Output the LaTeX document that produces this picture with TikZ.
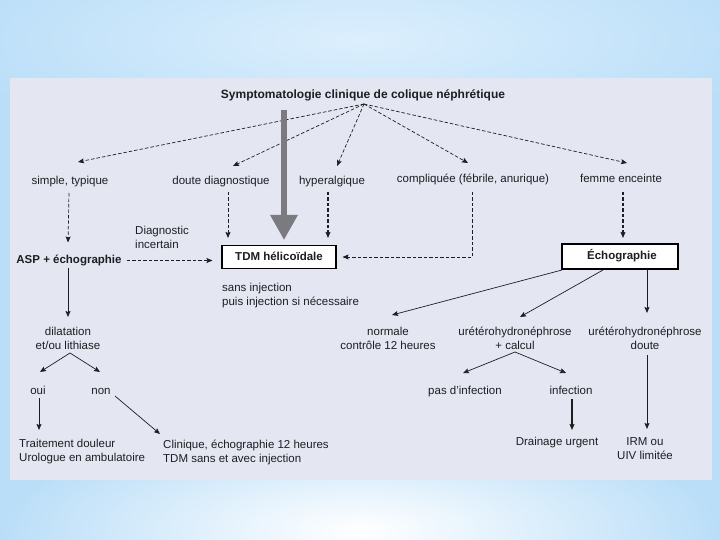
\documentclass[tikz,border=0pt]{standalone}
\usepackage{fontspec}
\setmainfont{Liberation Sans}
\usetikzlibrary{arrows.meta,calc}
\definecolor{bgblue}{RGB}{186,222,248}
\definecolor{bglight}{RGB}{220,239,253}
\definecolor{panel}{RGB}{228,230,242}
\definecolor{ink}{RGB}{30,30,34}
\definecolor{bigarr}{RGB}{122,122,128}
\begin{document}
\begin{tikzpicture}[x=1pt,y=1pt,
  txt/.style={font=\fontsize{11.5}{14}\selectfont, text=ink, inner sep=2pt, align=center},
  one/.style={text height=8.6pt, text depth=2.4pt},
  btxt/.style={txt, font=\fontsize{11.5}{14}\selectfont\bfseries},
  box/.style={btxt, one, draw=black, fill=white, line width=1.1pt, minimum height=23pt},
  dasharr/.style={draw=ink, line width=0.7pt, dash pattern=on 3.5pt off 2pt, -{Stealth[length=6pt,width=5pt,inset=1pt]}},
  bdasharr/.style={dasharr, line width=1.1pt},
  solarr/.style={draw=ink, line width=0.7pt, -{Stealth[length=6pt,width=5pt,inset=1pt]}},
  bigarrow/.style={draw=bigarr, line width=6pt, -{Triangle[length=25pt,width=26pt]}},
]
\useasboundingbox (0,0) rectangle (720,-540);
% background
\fill[bgblue] (0,0) rectangle (720,-540);
\shade[inner color=bglight, outer color=bgblue] (360,-40) ellipse (420 and 110);
\shade[inner color=white, outer color=bgblue] (360,-530) ellipse (360 and 110);
\fill[panel] (10,-78) rectangle (712,-480);

% nodes
\node[btxt, one, font=\fontsize{12}{14}\selectfont\bfseries] (title) at (363,-95.5) {Symptomatologie clinique de colique néphrétique};
\coordinate (hub) at (364,-104);

\node[txt, one] (simple) at (70,-181) {simple, typique};
\node[txt, one] (doute) at (221,-181) {doute diagnostique};
\node[txt, one] (hyper) at (332,-181) {hyperalgique};
\node[txt, one] (compl) at (473,-179) {compliquée (fébrile, anurique)};
\node[txt, one] (femme) at (621,-179) {femme enceinte};

\node[btxt, one] (asp) at (69,-260.5) {ASP + échographie};
\node[box, minimum width=114pt] (tdm) at (279,-257) {TDM hélicoïdale};
\node[box, minimum width=116pt, minimum height=25pt] (echo) at (620,-256.5) {\hspace*{4pt}Échographie};
\draw[line width=2pt] ([shift={(-1,-0.5)}]echo.north east) -- ([shift={(-1,1)}]echo.south east) -- ([shift={(0,1)}]echo.south west);
\node[txt, align=left, anchor=west] (diag) at (133,-237) {Diagnostic\\incertain};
\node[txt, align=left, anchor=west] (sans) at (220,-296) {sans injection\\puis injection si nécessaire};

\node[txt] (dilat) at (68,-338) {dilatation\\et/ou lithiase};
\node[txt, one] (oui) at (38,-391) {oui};
\node[txt, one] (non) at (101,-391) {non};
\node[txt, align=left, anchor=west] (trait) at (17,-452) {Traitement douleur\\Urologue en ambulatoire};
\node[txt, align=left, anchor=west] (clin) at (161,-452) {Clinique, échographie 12 heures\\TDM sans et avec injection};

\node[txt] (normale) at (388,-338) {normale\\contrôle 12 heures};
\node[txt] (ucalc) at (515,-338) {urétérohydronéphrose\\+ calcul};
\node[txt] (udoute) at (645,-338) {urétérohydronéphrose\\doute};
\node[txt, one] (pas) at (465,-391) {pas d'infection};
\node[txt, one] (inf) at (571,-391) {infection};
\node[txt, one] (drain) at (557,-442) {Drainage urgent};
\node[txt] (irm) at (645,-449) {IRM ou\\UIV limitée};

% connectors from title
\draw[dasharr] (hub) -- ([shift={(8,19)}]simple.center);
\draw[dasharr] (hub) -- ([shift={(12,15)}]doute.center);
\draw[dasharr] (hub) -- ([shift={(5,15)}]hyper.center);
\draw[dasharr] (hub) -- ([shift={(-5,16)}]compl.center);
\draw[dasharr] (hub) -- ([shift={(6,16)}]femme.center);

% big arrow
\draw[bigarrow] ([shift={(5,147)}]tdm.center) -- ([shift={(5,17)}]tdm.center);

% verticals to second level
\draw[dasharr] ([shift={(-1,-12)}]simple.center) -- ([shift={(-1,18)}]asp.center);
\draw[dasharr] ([shift={(7,-11)}]doute.center) -- ([shift={(-51,19)}]tdm.center);
\draw[bdasharr] ([shift={(-4,-11)}]hyper.center) -- ([shift={(49,19)}]tdm.center);
\draw[dasharr] ([shift={(-1,-13)}]compl.center) |- ([xshift=6pt]tdm.east);
\draw[bdasharr] ([shift={(2,-13)}]femme.center) -- ([shift={(3,18.5)}]echo.center);
\draw[dasharr] ([xshift=3pt]asp.east) -- ([xshift=-9pt]asp.east -| tdm.west);

% left branch
\draw[solarr] ([shift={(-1,-7)}]asp.center) -- ([shift={(0,21)}]dilat.center);
\draw[solarr] ([shift={(2,-15)}]dilat.center) -- ([shift={(2,19)}]oui.center);
\draw[solarr] ([shift={(2,-15)}]dilat.center) -- ([shift={(-1,19)}]non.center);
\draw[solarr] ([shift={(1,-7)}]oui.center) -- ([shift={(22,22)}]trait.west);
\draw[solarr] ([shift={(14,-5)}]non.center) -- ([shift={(-1,18)}]clin.west);

% right branch
\draw[solarr] ([shift={(-58,-13.5)}]echo.center) -- ([shift={(4,23)}]normale.center);
\draw[solarr] ([shift={(-17,-13.5)}]echo.center) -- ([shift={(5,21)}]ucalc.center);
\draw[solarr] ([shift={(27,-13.5)}]echo.center) -- ([shift={(2,25)}]udoute.center);
\draw[solarr] ([shift={(0,-14)}]ucalc.center) -- ([shift={(-2,18)}]pas.center);
\draw[solarr] ([shift={(0,-14)}]ucalc.center) -- ([shift={(-5,18)}]inf.center);
\draw[solarr, line width=1.4pt] ([shift={(1,-8)}]inf.center) -- ([shift={(15,12)}]drain.center);
\draw[solarr] ([shift={(2,-17)}]udoute.center) -- ([shift={(2,20)}]irm.center);
\end{tikzpicture}
\end{document}
